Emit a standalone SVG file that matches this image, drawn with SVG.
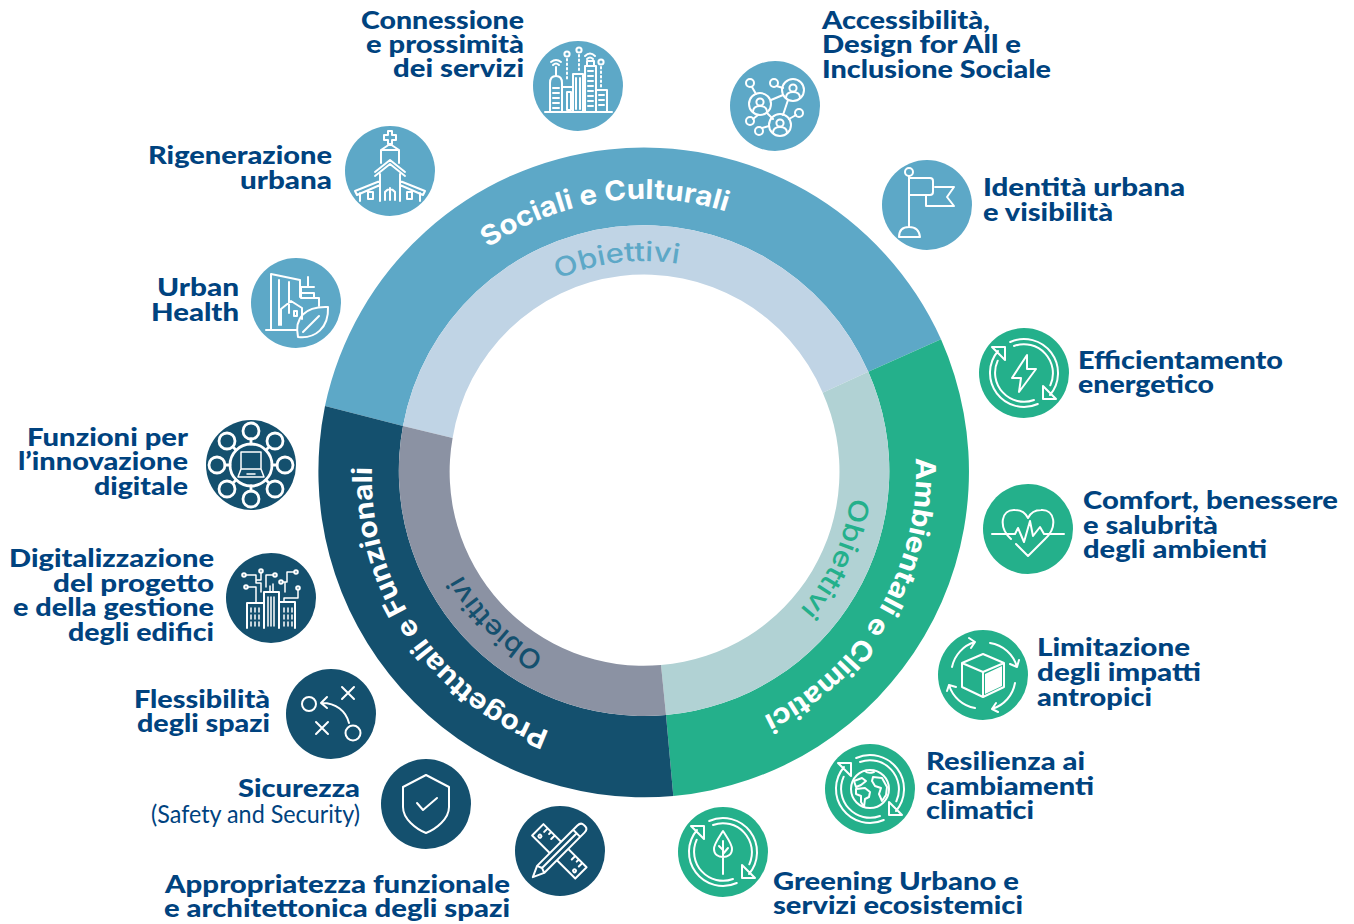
<svg xmlns="http://www.w3.org/2000/svg" xmlns:xlink="http://www.w3.org/1999/xlink" width="1354" height="924" viewBox="0 0 1354 924">
<style>
.l{font-family:Lato,"Liberation Sans",sans-serif;font-weight:900;font-size:25.5px;fill:#00437f}
.n{font-family:Lato,"Liberation Sans",sans-serif;font-weight:400;font-size:25px;fill:#00437f}
.r{font-family:Inter,"Open Sans","Liberation Sans",sans-serif;font-size:27.5px;font-weight:700;fill:#fff}
.o{font-family:Inter,"Open Sans","Liberation Sans",sans-serif;font-size:27px;font-weight:500}
.i{fill:none;stroke:#fff;stroke-width:2;stroke-linecap:round;stroke-linejoin:round}
.b{fill:#5da8c7}.d{fill:#14506e}.g{fill:#24b08b}
</style>
<defs>
<path id="p1" d="M488.2 247.8A273 273 0 0 1 726.1 211.6"/>
<path id="p2" d="M558.2 279.2A211 211 0 0 1 678.8 263.9"/>
<path id="p3" d="M915.6 457.8A272 272 0 0 1 763.2 716.5"/>
<path id="p4" d="M850.4 497.4A208 208 0 0 1 799.8 609.9"/>
<path id="p5" d="M549.6 731.4A272 272 0 0 1 372.1 464.9"/>
<path id="p6" d="M544.3 655.7A209 209 0 0 1 462.1 574.9"/>
<g id="cyc" class="i">
<path d="M-13.8 -31A34 34 0 0 1 26 22M-10 -27A29 29 0 0 1 26.3 12.3M19 13V26H32Z"/>
<path transform="rotate(180)" d="M-13.8 -31A34 34 0 0 1 26 22M-10 -27A29 29 0 0 1 26.3 12.3M19 13V26H32Z"/>
</g>
<g id="per" class="i"><circle r="11"/><circle cy="-2" r="3.6"/><path d="M-7 8Q-7 2 0 2Q7 2 7 8"/></g>
</defs>

<g id="ring">
<path class="b" d="M325 406A326 326 0 0 1 941 339.3L868.3 371.7A245 245 0 0 0 403 426Z"/>
<path fill="#c0d4e5" d="M403 426A245 245 0 0 1 868.3 371.7L822.7 392.7A194 194 0 0 0 452.6 438Z"/>
<path class="g" d="M941 339.3A326 326 0 0 1 673.3 796L666 715A245 245 0 0 0 868.3 371.7Z"/>
<path fill="#b1d2d4" d="M868.3 371.7A245 245 0 0 1 666 715L661 665A194 194 0 0 0 822.7 392.7Z"/>
<path class="d" d="M673.3 796A326 326 0 0 1 325 406L403 426A245 245 0 0 0 666 715Z"/>
<path fill="#8b92a3" d="M666 715A245 245 0 0 1 403 426L452.6 438A194 194 0 0 0 661 665Z"/>
<text class="r"><textPath href="#p1" textLength="249" lengthAdjust="spacingAndGlyphs">Sociali e Culturali</textPath></text>
<text class="o" fill="#5da8c7"><textPath href="#p2" textLength="123" lengthAdjust="spacingAndGlyphs">Obiettivi</textPath></text>
<text class="r"><textPath href="#p3" textLength="318" lengthAdjust="spacingAndGlyphs">Ambientali e Climatici</textPath></text>
<text class="o" fill="#24b08b"><textPath href="#p4" textLength="125" lengthAdjust="spacingAndGlyphs">Obiettivi</textPath></text>
<text class="r"><textPath href="#p5" textLength="340" lengthAdjust="spacingAndGlyphs">Progettuali e Funzionali</textPath></text>
<text class="o" fill="#14506e"><textPath href="#p6" textLength="117" lengthAdjust="spacingAndGlyphs">Obiettivi</textPath></text>
</g>

<g id="connectors"/>

<g id="connessione">
<circle class="b" cx="578" cy="86" r="45"/>
<g class="i" transform="translate(578 86)">
<path d="M-33 26H34M-28 26V-3Q-28 -10 -22 -10Q-16 -10 -16 -3V26M-22 -11V-19M-27 -24Q-22 -28 -17 -24M-25 -21Q-22 -24 -19 -21M-25 2h6M-25 7h6M-25 12h6M-25 17h6M-25 22h6M-16 1H-5M-11 6H-7V24H-11ZM-5 26V-12H5V26M-2 -8V23M2 -8V23M7 26V-20H18V26M9 -20V-25H16V-20M10 -15h5M10 -10h5M10 -5h5M10 0h5M10 5h5M10 10h5M10 15h5M10 20h5M18 4H29V26M21 9h5M21 14h5M21 19h5"/>
<circle cx="-11" cy="-32" r="2.6"/><circle cx="1" cy="-36" r="2.6"/><circle cx="23" cy="-24" r="2.6"/>
<path stroke-dasharray="1.5 3" d="M-11 -27V-5M1 -31V-15M23 -19V3"/>
<path d="M7 -30Q12 -35 17 -30M9 -27Q12 -30 15 -27"/>
</g>
<text class="l" x="524" y="29" text-anchor="end" textLength="163" lengthAdjust="spacingAndGlyphs">Connessione</text>
<text class="l" x="524" y="53" text-anchor="end" textLength="158" lengthAdjust="spacingAndGlyphs">e prossimità</text>
<text class="l" x="524" y="77" text-anchor="end" textLength="131" lengthAdjust="spacingAndGlyphs">dei servizi</text>
</g>

<g id="accessibilita">
<circle class="b" cx="775" cy="106" r="45"/>
<g transform="translate(775 106)">
<use href="#per" x="-15" y="-2"/><use href="#per" x="18" y="-16"/><use href="#per" x="5" y="19"/>
<g class="i"><circle cx="-25" cy="-23" r="4"/><circle cx="-1" cy="-23" r="4"/><circle cx="24" cy="7" r="4"/><circle cx="-25" cy="15" r="4"/><circle cx="-16" cy="25" r="4"/>
<path d="M-23 -19L-19 -12M1.500 -20L8 -18M21 9L14 13M-22 13L-17 9M-13 22L-6 20M-4 -6L8 -11M13 -6L8 9M-8 7L-2 13"/></g>
</g>
<text class="l" x="822" y="29" textLength="168" lengthAdjust="spacingAndGlyphs">Accessibilità,</text>
<text class="l" x="822" y="53" textLength="199" lengthAdjust="spacingAndGlyphs">Design for All e</text>
<text class="l" x="822" y="78" textLength="229" lengthAdjust="spacingAndGlyphs">Inclusione Sociale</text>
</g>

<g id="identita">
<circle class="b" cx="927" cy="205" r="45"/>
<g class="i" transform="translate(927 205)">
<circle cx="-18" cy="-33" r="4"/>
<path d="M-18 -29V22M-17 -27H3Q6 -27 6 -24V-13Q6 -10 3 -10H-17M8 -18H27L20 -8L27 1H-1V-10M-28 32Q-28 22 -18 22Q-8 22 -7 32Z"/>
</g>
<text class="l" x="983" y="196" textLength="202" lengthAdjust="spacingAndGlyphs">Identità urbana</text>
<text class="l" x="983" y="221" textLength="130" lengthAdjust="spacingAndGlyphs">e visibilità</text>
</g>

<g id="rigenerazione">
<circle class="b" cx="390" cy="171" r="45"/>
<g class="i" transform="translate(390 171)">
<path d="M-2 -40H2V-36H6V-31H2V-27H-2V-31H-6V-36H-2ZM-9 -21L0 -27L9 -21M-9 -21H9M-9 -21V-8M9 -21V-8M-15 1L0 -11L15 1M-15 5L0 -7L15 5M-10 3V30M10 3V30M-10 10L-35 20L-33 24L-10 14M10 10L35 20L33 24L10 14M-30 22V30M30 22V30M-5 29V21Q0 15 5 21V29M0 17V29M-22 21h5v7h-5ZM17 21h5v7h-5Z"/>
</g>
<text class="l" x="332" y="164" text-anchor="end" textLength="184" lengthAdjust="spacingAndGlyphs">Rigenerazione</text>
<text class="l" x="332" y="189" text-anchor="end" textLength="92" lengthAdjust="spacingAndGlyphs">urbana</text>
</g>

<g id="urban-health">
<circle class="b" cx="296" cy="303" r="45"/>
<g class="i" transform="translate(295 303)">
<path d="M-29 27H2M-24 26V-29L5 -23V-6M-16 -23V22M-6 -21V10M-14 6V22M-14 6L-4 -2L7 5V16M-1 8h3v5h-3ZM13 -26V-16M6 -16H19M6 -16V-6M6 -10H19V-6M6 -5H24V3"/>
<path d="M3 34C-1 15 10 3 33 4C34 25 20 36 3 34ZM8 29L24 13"/>
</g>
<text class="l" x="239" y="296" text-anchor="end" textLength="82" lengthAdjust="spacingAndGlyphs">Urban</text>
<text class="l" x="239" y="321" text-anchor="end" textLength="88" lengthAdjust="spacingAndGlyphs">Health</text>
</g>

<g id="efficientamento">
<circle class="g" cx="1024" cy="373" r="45"/>
<use href="#cyc" x="1024" y="373"/>
<path class="i" transform="translate(1024 373)" d="M3 -18L-12 5H-3L-5 19L12 -4H3Z"/>
<text class="l" x="1078" y="369" textLength="205" lengthAdjust="spacingAndGlyphs">Efficientamento</text>
<text class="l" x="1078" y="393" textLength="136" lengthAdjust="spacingAndGlyphs">energetico</text>
</g>

<g id="comfort">
<circle class="g" cx="1028" cy="529" r="45"/>
<g class="i" transform="translate(1028 529)">
<path d="M-36 5H-23H-13L-10 -1L-4 13L2 -8L5 7L12 -2L16 5H36M-17 10C-30 -2 -27 -20 -13 -19C-6 -19 -2 -15 0 -11C2 -15 6 -19 13 -19C27 -20 30 -2 17 10L0 27L-12 15"/>
</g>
<text class="l" x="1083" y="509" textLength="255" lengthAdjust="spacingAndGlyphs">Comfort, benessere</text>
<text class="l" x="1083" y="534" textLength="135" lengthAdjust="spacingAndGlyphs">e salubrità</text>
<text class="l" x="1083" y="558" textLength="184" lengthAdjust="spacingAndGlyphs">degli ambienti</text>
</g>

<g id="limitazione">
<circle class="g" cx="983" cy="675" r="45"/>
<g class="i" transform="translate(983 675)">
<path d="M0 -21L21 -12L0 -3L-21 -12ZM-21 -12V12L0 22V-3M21 -12V12L0 22"/>
<path fill="#fff" stroke="none" d="M2 -1L19 -9V11L2 19Z"/>
<path d="M-31 -8A33 33 0 0 1 -8 -33M-14 -37L-8 -33L-12 -27M7 -32A33 33 0 0 1 34 -8M36 -15L34 -8L27 -11M32 8A33 33 0 0 1 9 34M15 37L9 34L13 28M-8 33A33 33 0 0 1 -34 10M-36 16L-34 10L-27 12"/>
</g>
<text class="l" x="1037" y="656" textLength="153" lengthAdjust="spacingAndGlyphs">Limitazione</text>
<text class="l" x="1037" y="681" textLength="164" lengthAdjust="spacingAndGlyphs">degli impatti</text>
<text class="l" x="1037" y="706" textLength="115" lengthAdjust="spacingAndGlyphs">antropici</text>
</g>

<g id="resilienza">
<circle class="g" cx="870" cy="789" r="45"/>
<use href="#cyc" x="870" y="789"/>
<g class="i" transform="translate(870 789)" stroke-width="1.4">
<circle r="19"/>
<path d="M-5 -18Q-2 -15 4 -17M-16 -8L-8 -11L-4 -8L-9 -4L-14 -2ZM-14 0L-5 -1L0 3L-1 8L-5 10L-6 18L-9 13L-9 7L-14 5ZM3 -12L12 -11L17 -2L16 6L12 12L9 5L11 -1L5 -3L2 -8Z"/>
</g>
<text class="l" x="926" y="770" textLength="159" lengthAdjust="spacingAndGlyphs">Resilienza ai</text>
<text class="l" x="926" y="795" textLength="168" lengthAdjust="spacingAndGlyphs">cambiamenti</text>
<text class="l" x="926" y="819" textLength="108" lengthAdjust="spacingAndGlyphs">climatici</text>
</g>

<g id="greening">
<circle class="g" cx="723" cy="852" r="45"/>
<use href="#cyc" x="723" y="852"/>
<g class="i" transform="translate(723 852)">
<path d="M0 -21C-5 -13 -9 -8 -9 -3C-9 3 -4 5 0 5C4 5 9 3 9 -3C9 -8 5 -13 0 -21ZM0 -11V22M0 -2L-4 -6M0 2L5 -4"/>
</g>
<text class="l" x="773" y="890" textLength="246" lengthAdjust="spacingAndGlyphs">Greening Urbano e</text>
<text class="l" x="773" y="914" textLength="250" lengthAdjust="spacingAndGlyphs">servizi ecosistemici</text>
</g>

<g id="funzioni">
<circle class="d" cx="251" cy="465" r="45"/>
<g class="i" transform="translate(251 465)">
<g stroke-width="2.8">
<circle r="21"/>
<circle cy="-34" r="8"/><circle cy="34" r="8"/><circle cx="-34" r="8"/><circle cx="34" r="8"/>
<circle cx="-24" cy="-24" r="8"/><circle cx="24" cy="-24" r="8"/><circle cx="-24" cy="24" r="8"/><circle cx="24" cy="24" r="8"/>
<path d="M0 -26V-21M0 21V26M-26 0H-21M21 0H26M-18 -18L-15 -15M18 -18L15 -15M-18 18L-15 15M18 18L15 15"/>
</g>
<path stroke-width="1.500" d="M-10 -13H10V4H-10ZM-10 4L-13 12H13L10 4M-4 9H4"/>
</g>
<text class="l" x="188" y="446" text-anchor="end" textLength="161" lengthAdjust="spacingAndGlyphs">Funzioni per</text>
<text class="l" x="188" y="470" text-anchor="end" textLength="170" lengthAdjust="spacingAndGlyphs">l’innovazione</text>
<text class="l" x="188" y="495" text-anchor="end" textLength="94" lengthAdjust="spacingAndGlyphs">digitale</text>
</g>

<g id="digitalizzazione">
<circle class="d" cx="271" cy="598" r="45"/>
<g class="i" transform="translate(271 598)">
<path d="M-24 30V5H-8M9 4H24V30M-7 30V-6H8V30"/>
<path stroke-width="1.500" d="M-20 10V14M-16 10V14M-12 10V14M-20 17V21M-16 17V21M-12 17V21M-20 24V28M-16 24V28M-12 24V28M13 10V14M17 10V14M21 10V14M13 17V21M17 17V21M21 17V21M13 24V28M17 24V28M21 24V28M-3 -1V28M0 -1V28M3 -1V28M-1 -12V-6M2 -14V-6"/>
<circle cx="-27" cy="-23" r="1.800"/><circle cx="-10" cy="-27" r="1.800"/><circle cx="4" cy="-23" r="1.800"/><circle cx="25" cy="-26" r="1.800"/><circle cx="-25" cy="-11" r="1.800"/><circle cx="10" cy="-16" r="1.800"/><circle cx="27" cy="-10" r="1.800"/>
<path stroke-width="1.500" d="M-25 -23H-15V-15H-10V-6M-10 -25V-18H-15M2 -23H-5V-11M-23 -11H-15V4M23 -26H16V-16H12M27 -8V0H13V4M14 -16V-6"/>
</g>
<text class="l" x="214" y="567" text-anchor="end" textLength="205" lengthAdjust="spacingAndGlyphs">Digitalizzazione</text>
<text class="l" x="214" y="592" text-anchor="end" textLength="161" lengthAdjust="spacingAndGlyphs">del progetto</text>
<text class="l" x="214" y="616" text-anchor="end" textLength="201" lengthAdjust="spacingAndGlyphs">e della gestione</text>
<text class="l" x="214" y="641" text-anchor="end" textLength="146" lengthAdjust="spacingAndGlyphs">degli edifici</text>
</g>

<g id="flessibilita">
<circle class="d" cx="331" cy="714" r="45"/>
<g class="i" transform="translate(331 714)" stroke-width="3.2">
<circle cx="-22" cy="-10" r="7"/><circle cx="22" cy="19" r="7.500"/>
<path d="M11 -27L23 -15M23 -27L11 -15M-15 8L-3 20M-3 8L-15 20M18 9C15 -3 5 -11 -9 -11M-4 -17L-10 -11L-4 -6"/>
</g>
<text class="l" x="270" y="708" text-anchor="end" textLength="136" lengthAdjust="spacingAndGlyphs">Flessibilità</text>
<text class="l" x="270" y="732" text-anchor="end" textLength="133" lengthAdjust="spacingAndGlyphs">degli spazi</text>
</g>

<g id="sicurezza">
<circle class="d" cx="426" cy="804" r="45"/>
<g class="i" transform="translate(426 804)">
<path d="M0 -29L23 -17V3C23 15 10 25 0 29C-10 25 -23 15 -23 3V-17ZM-9 -1L-3 6L11 -6"/>
</g>
<text class="l" x="360" y="797" text-anchor="end" textLength="122" lengthAdjust="spacingAndGlyphs">Sicurezza</text>
<text class="n" x="360" y="823" text-anchor="end" textLength="209" lengthAdjust="spacingAndGlyphs">(Safety and Security)</text>
</g>

<g id="appropriatezza">
<circle class="d" cx="560" cy="851" r="45"/>
<g class="i" transform="translate(559 851)">
<g transform="rotate(45)">
<path d="M-30 -8H31V8H-30ZM-24 -8V-3M-19 -8V-5M-14 -8V-3M15 -8V-3M20 -8V-5M25 -8V-3"/>
<circle cx="-24" cy="3" r="1.500"/><circle cx="25" cy="3" r="1.500"/>
</g>
<g transform="rotate(-45)">
<path fill="#14506e" d="M-37 0L-26 -5H31Q36 -5 36 -1V1Q36 5 31 5H-26ZM-26 -5L-24 0L-26 5M-24 0H25M25 -5V5"/>
</g>
</g>
<text class="l" x="510" y="893" text-anchor="end" textLength="345" lengthAdjust="spacingAndGlyphs">Appropriatezza funzionale</text>
<text class="l" x="510" y="917" text-anchor="end" textLength="346" lengthAdjust="spacingAndGlyphs">e architettonica degli spazi</text>
</g>
</svg>
